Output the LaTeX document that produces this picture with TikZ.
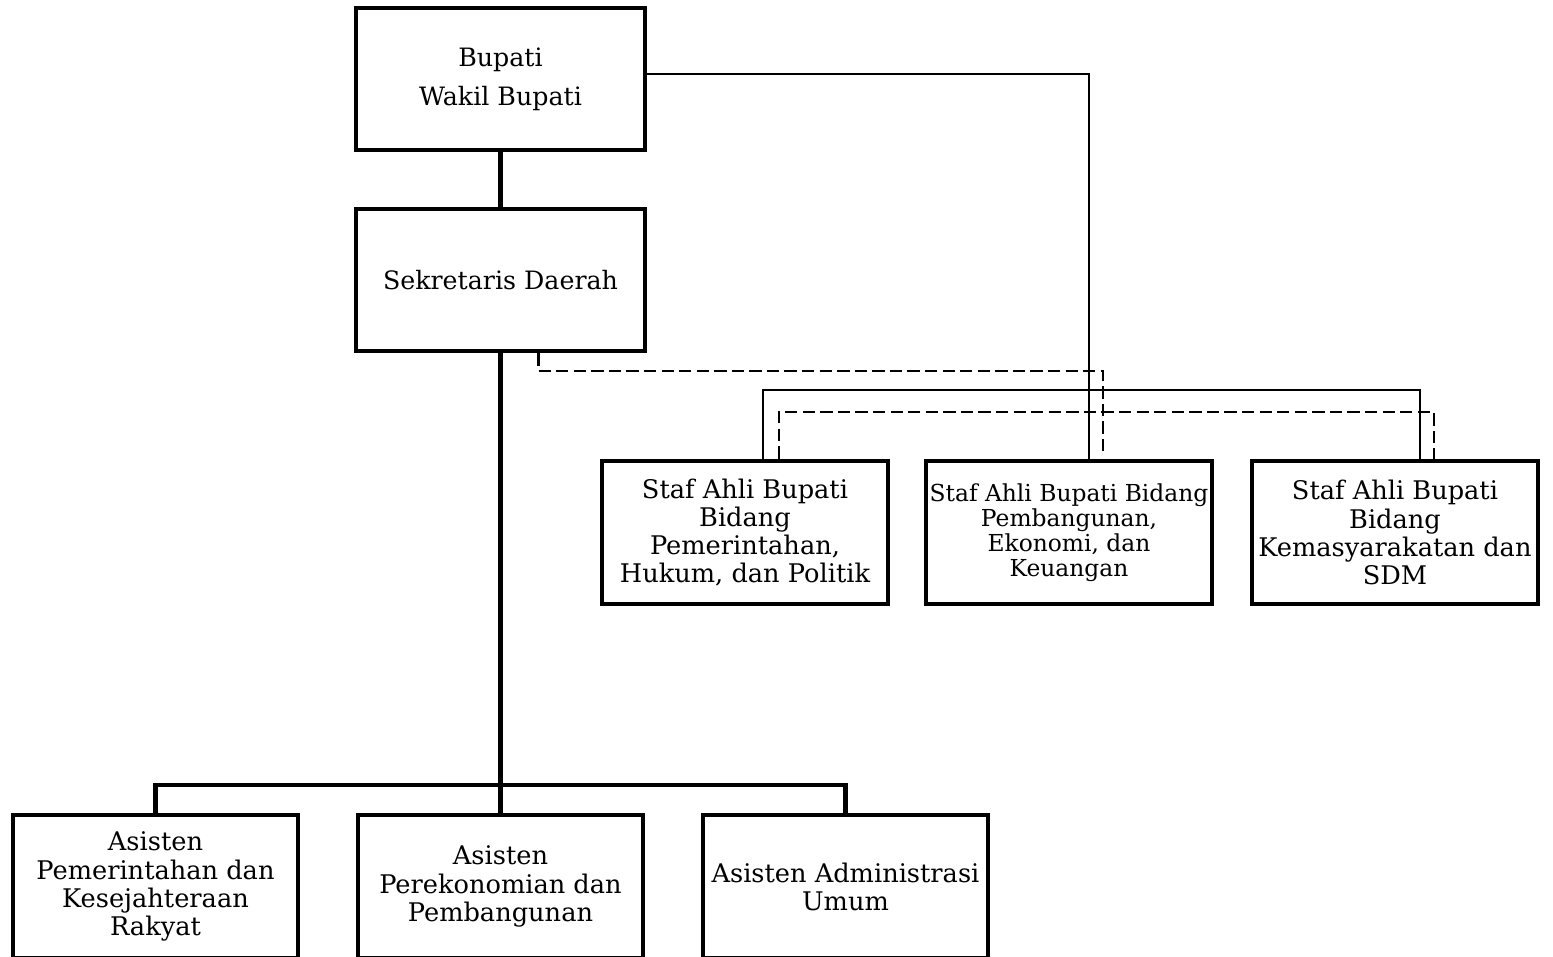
\documentclass[tikz,border=0pt]{standalone}
\usepackage{fontspec}
\setmainfont{DejaVu Serif}
\usetikzlibrary{calc}
\tikzset{
  mainbox/.style={draw, line width=2.8pt, minimum width=5.78cm, minimum height=2.84cm, align=center, inner sep=1pt, font=\fontsize{14.4}{22}\selectfont},
  stafbox/.style={draw, line width=2.8pt, minimum width=5.72cm, minimum height=2.86cm, align=center, inner sep=1pt, font=\fontsize{14.6}{16}\selectfont},
  asbox/.style={draw, line width=2.8pt, minimum width=5.7cm, minimum height=2.86cm, align=center, inner sep=1pt, font=\fontsize{14.6}{16}\selectfont},
  conn/.style={line width=2.8pt},
  link/.style={line width=1.2pt},
  dashlink/.style={line width=1.2pt, dash pattern=on 7pt off 3pt}
}
\begin{document}
\begin{tikzpicture}[x=0.02cm, y=-0.02cm]
\useasboundingbox (0,0) rectangle (1553,957);
\node[mainbox] (bupati) at (500.5,79) {Bupati\\Wakil Bupati};
\node[mainbox] (sekda) at (500.5,280) {Sekretaris Daerah};
\node[stafbox] (staf1) at (745,532.5) {Staf Ahli Bupati\\Bidang\\Pemerintahan,\\Hukum, dan Politik};
\node[stafbox, font=\fontsize{13.3}{14.2}\selectfont] (staf2) at (1069,532.5) {Staf Ahli Bupati Bidang\\Pembangunan,\\Ekonomi, dan\\Keuangan};
\node[stafbox] (staf3) at (1395,532.5) {Staf Ahli Bupati\\Bidang\\Kemasyarakatan dan\\SDM};
\node[asbox] (asisten1) at (155.5,886.5) {Asisten\\Pemerintahan dan\\Kesejahteraan\\Rakyat};
\node[asbox] (asisten2) at (500.5,886.5) {Asisten\\Perekonomian dan\\Pembangunan};
\node[asbox] (asisten3) at (845.5,886.5) {Asisten Administrasi\\Umum};
\coordinate (bus) at (500.5,785);
\coordinate (dashR) at (1103,371);
\coordinate (stafbus) at (1069,390);
\coordinate (stafdash) at (1069,412);
\draw[conn] (bupati) -- (sekda);
\draw[conn] (sekda) -- (asisten2);
\draw[conn] (asisten1.north) |- (bus) -| (asisten3.north);
\draw[link] ($(bupati.east)+(0,-5)$) -| ($(staf2.north)+(20,0)$);
\draw[dashlink] ($(sekda.south)+(38,0)$) |- (dashR) -- ($(staf2.north)+(34,-6)$);
\draw[link] ($(staf1.north)+(18,0)$) |- (stafbus) -| ($(staf3.north)+(25,0)$);
\draw[dashlink] ($(staf1.north)+(34,0)$) |- (stafdash) -| ($(staf3.north)+(39,0)$);
\end{tikzpicture}
\end{document}
